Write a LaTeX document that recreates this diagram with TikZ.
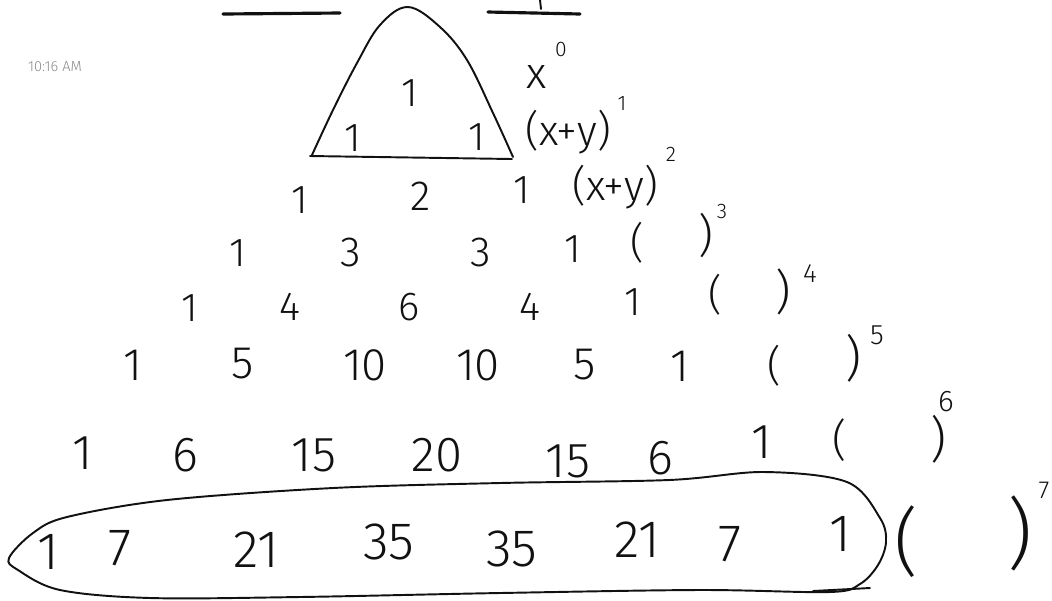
\documentclass[tikz,border=0pt]{standalone}
\usepackage{fontspec}
\setmainfont{Fira Sans Light}
\usepackage{tikz}
\definecolor{ink}{HTML}{111111}
\definecolor{stamp}{HTML}{8A8A8A}
\tikzset{
  num/.style={inner sep=0pt, text=ink, font=\fontsize{#1}{#1}\selectfont},
  num/.default=23,
  expo/.style={inner sep=0pt, text=ink, font=\fontsize{#1}{#1}\selectfont},
  expo/.default=12,
  pen/.style={draw=ink, line width=1.1pt, line cap=round, line join=round},
}

\begin{document}
\begin{tikzpicture}[x=0.02cm, y=-0.02cm]
  \useasboundingbox (0,0) rectangle (1052,600);
  \draw[pen, line width=1.8pt] (223,14) -- (340,13);
  \draw[pen, line width=1.8pt] (488,12) -- (580,14);
  \draw[pen] (540,0) -- (541,9);
  \node[inner sep=0pt, text=stamp, font=\fontsize{8.3}{9}\selectfont] (clock) at (55,67) {10:16 AM};
  % the first rows inside the arch
  \draw[pen] plot[smooth, tension=0.6] coordinates {(312,155) (333,110) (357,63) (380,25) (408,7) (440,27) (467,60) (493,113) (513,157)};
  \draw[pen] (310,156) -- (512,159);
  \node[num] (r0c1) at (410,93) {1};
  \node[num] (r1c1) at (353,138) {1};
  \node[num] (r1c2) at (477,137) {1};
  \node[num=25] (b0) at (537,77) {x};
  \node[expo] (e0) at (561,49) {0};
  \node[num=24] (b1) at (568,132) {(x+y)};
  \node[expo] (e1) at (622,103) {1};
  \node[num] (r2c1) at (300,200) {1};
  \node[num=24] (r2c2) at (421,196) {2};
  \node[num] (r2c3) at (522,190) {1};
  \node[num=24] (b2) at (615,187) {(x+y)};
  \node[expo] (e2) at (671,154) {2};
  \node[num] (r3c1) at (238,253) {1};
  \node[num=24] (r3c2) at (351,252) {3};
  \node[num=24] (r3c3) at (481,252) {3};
  \node[num] (r3c4) at (573,249) {1};
  \node[num=24] (p3l) at (637,243) {(};
  \node[num=26] (p3r) at (706,235) {)};
  \node[expo] (e3) at (722,211) {3};
  \node[num] (r4c1) at (190,308) {1};
  \node[num] (r4c2) at (290,307) {4};
  \node[num] (r4c3) at (409,307) {6};
  \node[num] (r4c4) at (530,307) {4};
  \node[num] (r4c5) at (633,302) {1};
  \node[num=24] (p4l) at (715,295) {(};
  \node[num=27] (p4r) at (783,292) {)};
  \node[expo=15] (e4) at (810,274) {4};
  \node[num=26] (r5c1) at (133,365) {1};
  \node[num=26] (r5c2) at (243,364) {5};
  \node[num=26] (r5c3) at (365,365) {10};
  \node[num=26] (r5c4) at (478,365) {10};
  \node[num=26] (r5c5) at (585,365) {5};
  \node[num=26] (r5c6) at (680,366) {1};
  \node[num=24] (p5l) at (774,366) {(};
  \node[num=28] (p5r) at (853,358) {)};
  \node[expo=16] (e5) at (877,335) {5};
  \node[num=28] (r6c1) at (83,453) {1};
  \node[num=28] (r6c2) at (185,455) {6};
  \node[num=28] (r6c3) at (314,455) {15};
  \node[num=28] (r6c4) at (437,455) {20};
  \node[num=28] (r6c5) at (568,461) {15};
  \node[num=28] (r6c6) at (660,458) {6};
  \node[num=28] (r6c7) at (762,442) {1};
  \node[num=25] (p6l) at (840,440) {(};
  \node[num=28] (p6r) at (938,439) {)};
  \node[expo=17] (e6) at (946,402) {6};
  % row seven, circled
  \draw[pen] plot[smooth cycle, tension=0.55] coordinates {(9,558) (33,533) (67,517) (167,500) (333,488) (500,483) (669,480) (764,472) (847,482) (880,518) (886,542) (878,565) (860,584) (830,592) (700,590) (500,593) (300,597) (150,598) (60,590) (18,570)};
  \draw[pen] (813,591) -- (870,588);
  \node[num=30] (r7c1) at (48,552) {1};
  \node[num=30] (r7c2) at (120,548) {7};
  \node[num=30] (r7c3) at (256,550) {21};
  \node[num=30] (r7c4) at (389,542) {35};
  \node[num=30] (r7c5) at (512,549) {35};
  \node[num=30] (r7c6) at (637,540) {21};
  \node[num=30] (r7c7) at (730,544) {7};
  \node[num=30] (r7c8) at (840,534) {1};
  \node[num=42] (p7l) at (906,542) {(};
  \node[num=44] (p7r) at (1020,533) {)};
  \node[expo=14] (e7) at (1044,490) {7};
\end{tikzpicture}
\end{document}
